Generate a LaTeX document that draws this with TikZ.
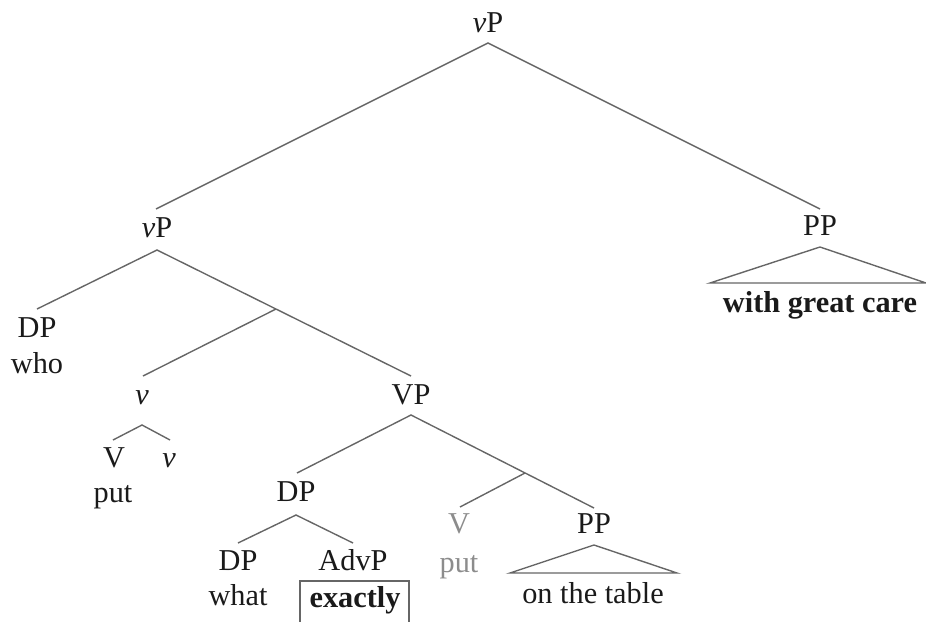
\documentclass[tikz,border=0pt]{standalone}
\usepackage{fontspec}
\setmainfont{Liberation Serif}
\definecolor{edge}{HTML}{666666}
\definecolor{txt}{HTML}{1A1A1A}
\definecolor{ghost}{HTML}{8C8C8C}
\begin{document}
\begin{tikzpicture}[x=1pt,y=-1pt,
  lbl/.style={anchor=base, inner sep=0pt, font=\fontsize{30.3}{36}\selectfont, text=txt},
  gst/.style={lbl, text=ghost},
  br/.style={draw=edge, line width=1.4pt},
]
\clip (0,0) rectangle (926,621);
\useasboundingbox (0,0) rectangle (926,621);

% labels
\node[lbl] (vP1) at (488,32) {\textit{v}P};
\node[lbl] (vP2) at (157,237) {\textit{v}P};
\node[lbl] (PP1) at (820,235) {PP};
\node[lbl] (wgc) at (820,312) {\textbf{with great care}};
\node[lbl] (DP1) at (37,337) {DP};
\node[lbl] (who) at (37,373) {who};
\node[lbl] (vsm) at (142,404) {\textit{v}};
\node[lbl] (VP)  at (411,404) {VP};
\node[lbl] (Vl)  at (114,467) {V};
\node[lbl] (vl)  at (169,467) {\textit{v}};
\node[lbl] (putl) at (113,502) {put};
\node[lbl] (DP2) at (296,501) {DP};
\node[gst] (Vg)  at (459,533) {V};
\node[lbl] (PP2) at (594,533) {PP};
\node[gst] (putg) at (459,572) {put};
\node[lbl] (DP3) at (238,570) {DP};
\node[lbl] (AdvP) at (353,570) {AdvP};
\node[lbl] (what) at (238,605) {what};
\node[lbl] (exactly) at (355,607) {\textbf{exactly}};
\node[lbl] (table) at (593,603) {on the table};

% attachment points
\coordinate (a1) at (488,43);
\coordinate (t-vP2) at (156,209);
\coordinate (t-PP1) at (820,209);
\coordinate (a2) at (157,250);
\coordinate (t-DP1) at (37,309);
\coordinate (j1) at (276,309);
\coordinate (t-v) at (143,376);
\coordinate (t-VP) at (411,376);
\coordinate (a3) at (142,425);
\coordinate (t-Vl) at (113,440);
\coordinate (t-vl) at (170,440);
\coordinate (a4) at (411,415);
\coordinate (t-DP2) at (297,473);
\coordinate (j2) at (525,473);
\coordinate (t-Vg) at (460,507);
\coordinate (t-PP2) at (594,508);
\coordinate (a5) at (296,515);
\coordinate (t-DP3) at (238,543);
\coordinate (t-AdvP) at (353,543);
\coordinate (tri1) at (820,247);
\coordinate (tri1l) at (710,283);
\coordinate (tri1r) at (926,283);
\coordinate (tri2) at (594,545);
\coordinate (tri2l) at (510,573);
\coordinate (tri2r) at (677,573);

% branches
\draw[br] (t-vP2) -- (a1) -- (t-PP1);
\draw[br] (t-DP1) -- (a2) -- (t-VP);
\draw[br] (j1) -- (t-v);
\draw[br] (t-Vl) -- (a3) -- (t-vl);
\draw[br] (t-DP2) -- (a4) -- (t-PP2);
\draw[br] (j2) -- (t-Vg);
\draw[br] (t-DP3) -- (a5) -- (t-AdvP);
\draw[br] (tri1l) -- (tri1) -- (tri1r) -- cycle;
\draw[br] (tri2l) -- (tri2) -- (tri2r) -- cycle;

% box round "exactly"
\draw[br] (300,640) |- (409,581) -- (409,640);
\end{tikzpicture}
\end{document}
